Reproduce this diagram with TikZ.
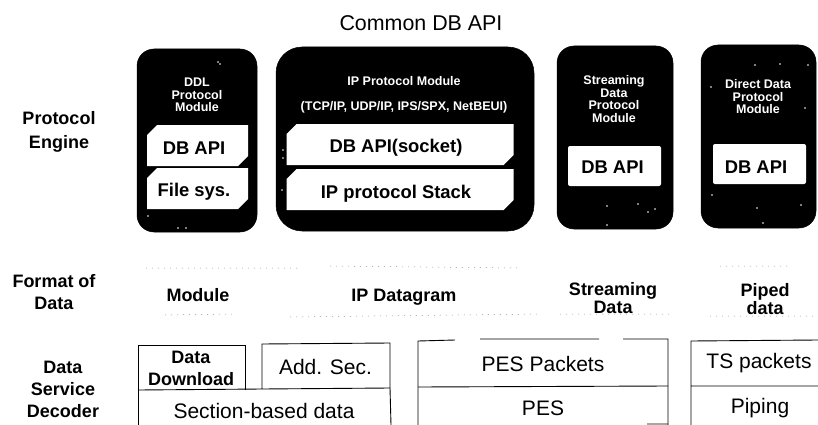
\documentclass[tikz,border=0pt]{standalone}
\usepackage{fontspec}
\setmainfont{Liberation Sans}
\usetikzlibrary{shapes.misc}
\newcommand{\fs}[1]{\fontsize{#1}{#1}\selectfont}
\tikzset{
  modbox/.style={fill=black,draw=black,rounded corners=17pt,line width=0.5pt},
  modtext/.style={text=white,font=\fs{12.5}\bfseries,align=center,inner sep=0pt},
  apibox/.style={chamfered rectangle,chamfered rectangle corners={north west,south east},chamfered rectangle xsep=5pt,chamfered rectangle ysep=5pt,fill=white,draw=none,inner sep=0pt,font=\fs{18.4}\bfseries},
  plainapi/.style={fill=white,rounded corners=2pt,inner sep=0pt},
  apitext/.style={inner sep=0pt,font=\fs{18.4}\bfseries},
  rowlabel/.style={font=\fs{18}\bfseries,align=center,inner sep=0pt},
  fmt/.style={font=\fs{18}\bfseries,align=center,inner sep=0pt},
  dec/.style={font=\fs{21},align=center,inner sep=0pt},
  wire/.style={draw=black,line width=0.9pt},
  speck/.style={draw=black!45,line width=0.5pt,dash pattern=on 1pt off 5pt},
  noise/.style={fill=white,draw=none}
}
\begin{document}
\begin{tikzpicture}[x=1pt,y=-1pt]
\useasboundingbox (0,0) rectangle (818,425);
\fill[white] (0,0) rectangle (818,425);
\node[inner sep=0pt,font=\fs{21.4}] (title) at (421,23) {Common DB API};
% modules
\draw[modbox] (137,49) rectangle (257,232);
\draw[modbox,rounded corners=26pt] (276,47) rectangle (534,231);
\draw[modbox] (557,46) rectangle (673,229);
\draw[modbox] (701,45) rectangle (816,228);
\node[modtext] (ddlt) at (197,95) {DDL\\Protocol\\Module};
\node[modtext] (ipt) at (404,81) {IP Protocol Module};
\node[modtext] (ipt2) at (404,107) {(TCP/IP, UDP/IP, IPS/SPX, NetBEUI)};
\node[modtext] (st) at (614,99) {Streaming\\Data\\Protocol\\Module};
\node[modtext] (dt) at (758,97) {Direct Data\\Protocol\\Module};
\node[apibox,minimum width=101pt,minimum height=41pt] (a1) at (197.5,145.5) {\phantom{DB API}};
\node[apibox,minimum width=101pt,minimum height=41pt] (a2) at (197.5,188.5) {\phantom{File sys.}};
\node[apibox,minimum width=227pt,minimum height=41pt] (b1) at (400,144.5) {\phantom{DB API(socket)}};
\node[apibox,minimum width=227pt,minimum height=41pt] (b2) at (400,189.5) {\phantom{IP protocol Stack}};
\node[plainapi,minimum width=93pt,minimum height=40pt] (c1) at (614.5,166) {};
\node[plainapi,minimum width=93pt,minimum height=40pt] (d1) at (759.5,164) {};
\node[apitext] (a1t) at (194,148) {DB API};
\node[apitext] (a2t) at (194,192) {File sys.};
\node[apitext] (b1t) at (396,148) {DB API(socket)};
\node[apitext] (b2t) at (396,194) {IP protocol Stack};
\node[apitext] (c1t) at (612.5,167) {DB API};
\node[apitext] (d1t) at (756,167) {DB API};
% scan specks on the black modules
\foreach \x/\y in {218/62,220/64,148/216,178/228,186/228,282/190,283/150,283/158,607/206,638/204,648/212,655/209,607/225,755/65,780/64,808/65,711/87,805/108,801/205,763/223,757/208,712/195}
  \fill[noise] (\x,\y) circle (0.8pt);
% row labels
\node[rowlabel] (l1) at (59,132) {Protocol\\[6pt]Engine};
\node[rowlabel] (l2) at (54,292) {Format of\\[4pt]Data};
\node[rowlabel] (l3) at (63,389) {Data\\[4pt]Service\\[4pt]Decoder};
% format row
\draw[speck] (146,268) -- (300,268) (330,266) -- (520,268) (720,266) -- (790,266);
\draw[speck] (165,315) -- (232,314) (290,317) -- (540,314) (560,314) -- (670,314) (710,316) -- (818,316);
\node[fmt] (f1) at (198,295) {Module};
\node[fmt] (f2) at (404,297) {IP Datagram};
\node[fmt] (f3) at (613,298) {Streaming\\[0pt]Data};
\node[fmt] (f4) at (765,299) {Piped\\[0pt]data};
% decoder
\node[font=\fs{18}\bfseries,align=center,inner sep=0pt] (dd) at (191,368) {Data\\[4pt]Download};
\node[dec] (as) at (325.5,367) {Add. Sec.};
\node[dec] (sb) at (264,411) {Section-based data};
\node[dec] (pp) at (543,364) {PES Packets};
\node[dec] (pe) at (543,408) {PES};
\node[dec] (ts) at (759,363) {TS packets};
\node[dec] (pi) at (760,408) {Piping};
\draw[wire] (138,425) -- (138,345) -- (245,345) -- (245,390);
\draw[wire] (138,390) -- (262,389) (262,389) -- (262,344) -- (390,343) -- (390,388) -- (262,389);
\draw[wire] (390,388) -- (391,425);
\draw[wire] (418,425) -- (418,341) -- (455,340) (480,339) -- (599,339) (623,339) -- (668,339) -- (668,425);
\draw[wire] (418,387) -- (668,386) (647,424) -- (668,424);
\draw[wire] (691,425) -- (691,341) -- (818,340) (691,386) -- (818,386);
\end{tikzpicture}
\end{document}
